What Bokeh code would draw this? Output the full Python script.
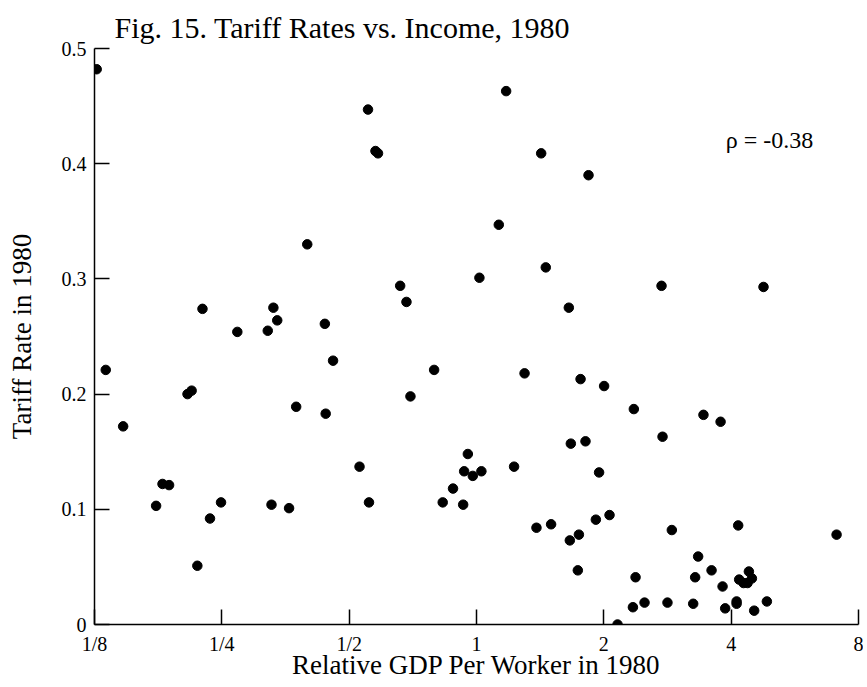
from bokeh.plotting import figure
from bokeh.models import FixedTicker, Label, ColumnDataSource
from bokeh.embed import file_html
from bokeh.resources import INLINE

# Relative GDP per worker in 1980 (x) and tariff rate in 1980 (y)
gdp = [0.1265, 0.554, 0.577, 0.585, 0.398, 0.225, 0.331, 0.338, 0.272, 0.321,
       0.438, 1.175, 1.422, 1.840, 1.129, 0.660, 0.683, 1.016, 1.458, 1.653,
       2.738, 4.77, 0.1329, 0.1461, 0.2074, 0.2121, 0.458, 0.3747, 0.440, 0.181,
       0.1876, 0.1748, 0.2344, 0.2489, 0.3276, 0.3605, 0.2188, 0.529, 0.557, 0.794,
       0.698, 1.299, 1.762, 2.003, 2.355, 3.44, 3.776, 2.753, 1.671, 1.810,
       1.949, 0.954, 0.935, 0.980, 1.027, 1.227, 0.880, 0.832, 0.930, 1.386,
       1.501, 1.662, 1.746, 1.915, 2.063, 2.896, 4.156, 1.736, 2.377, 3.342,
       3.288, 3.595, 3.817, 4.405, 4.178, 4.279, 4.373, 4.478, 2.343, 2.496,
       2.828, 3.253, 3.872, 4.12, 4.12, 4.534, 4.858, 2.155, 7.1]
tariff = [0.482, 0.447, 0.411, 0.409, 0.330, 0.274, 0.275, 0.264, 0.254, 0.255,
          0.261, 0.463, 0.409, 0.390, 0.347, 0.294, 0.280, 0.301, 0.310, 0.275,
          0.294, 0.293, 0.221, 0.172, 0.200, 0.203, 0.229, 0.189, 0.183, 0.122,
          0.121, 0.103, 0.092, 0.106, 0.104, 0.101, 0.051, 0.137, 0.106, 0.221,
          0.198, 0.218, 0.213, 0.207, 0.187, 0.182, 0.176, 0.163, 0.157, 0.159,
          0.132, 0.148, 0.133, 0.129, 0.133, 0.137, 0.118, 0.106, 0.104, 0.084,
          0.087, 0.073, 0.078, 0.091, 0.095, 0.082, 0.086, 0.047, 0.041, 0.059,
          0.041, 0.047, 0.033, 0.046, 0.039, 0.036, 0.036, 0.040, 0.015, 0.019,
          0.019, 0.018, 0.014, 0.020, 0.018, 0.012, 0.020, 0.000, 0.078]

x_ticks = [0.125, 0.25, 0.5, 1, 2, 4, 8]
x_tick_labels = ["1/8", "1/4", "1/2", "1", "2", "4", "8"]
y_ticks = [0, 0.1, 0.2, 0.3, 0.4, 0.5]
y_tick_labels = ["0", "0.1", "0.2", "0.3", "0.4", "0.5"]

title_text = "Fig. 15. Tariff Rates vs. Income, 1980"
x_label = "Relative GDP Per Worker in 1980"
y_label = "Tariff Rate in 1980"
rho_text = "\u03c1 = -0.38"
rho_pos = (3.886, 0.421)

FONT = "Liberation Serif"

p = figure(x_axis_type="log", x_range=(0.125, 8), y_range=(0, 0.5),
           frame_width=764, frame_height=576,
           min_border_left=94, min_border_right=5, min_border_top=48, min_border_bottom=40,
           output_backend="svg", toolbar_location=None, title=title_text)

src = ColumnDataSource(dict(x=gdp, y=tariff))
p.scatter("x", "y", source=src, size=9.5, color="black")

p.title.text_font = FONT
p.title.text_font_size = "30px"
p.title.text_font_style = "normal"
p.title.offset = 20
p.title.standoff = 10
p.title.text_color = "black"

p.xgrid.visible = False
p.ygrid.visible = False
p.outline_line_color = None
p.background_fill_color = "white"
p.border_fill_color = "white"

for ax in (p.xaxis[0], p.yaxis[0]):
    ax.axis_line_color = "black"
    ax.axis_line_width = 1.5
    ax.major_tick_line_color = "black"
    ax.major_tick_line_width = 1.5
    ax.major_tick_out = 0
    ax.major_tick_in = 15
    ax.minor_tick_line_color = None
    ax.major_label_text_font = FONT
    ax.major_label_text_font_size = "20px"
    ax.major_label_text_color = "black"
    ax.axis_label_text_font = FONT
    ax.axis_label_text_font_size = "27px"
    ax.axis_label_text_font_style = "normal"
    ax.axis_label_text_color = "black"
    ax.major_label_standoff = 8

p.xaxis[0].ticker = FixedTicker(ticks=x_ticks, minor_ticks=[])
p.xaxis[0].major_label_overrides = {t: l for t, l in zip(x_ticks, x_tick_labels)}
p.xaxis[0].axis_label = x_label
p.xaxis[0].axis_label_standoff = -8

p.yaxis[0].ticker = FixedTicker(ticks=y_ticks, minor_ticks=[])
p.yaxis[0].major_label_overrides = {t: l for t, l in zip(y_ticks, y_tick_labels)}
p.yaxis[0].axis_label = y_label
p.yaxis[0].axis_label_standoff = 22

p.add_layout(Label(x=rho_pos[0], y=rho_pos[1], text=rho_text, text_font=FONT,
                   text_font_size="24px", text_baseline="middle", text_color="black"))

open("out.html", "w").write(file_html(p, INLINE))
